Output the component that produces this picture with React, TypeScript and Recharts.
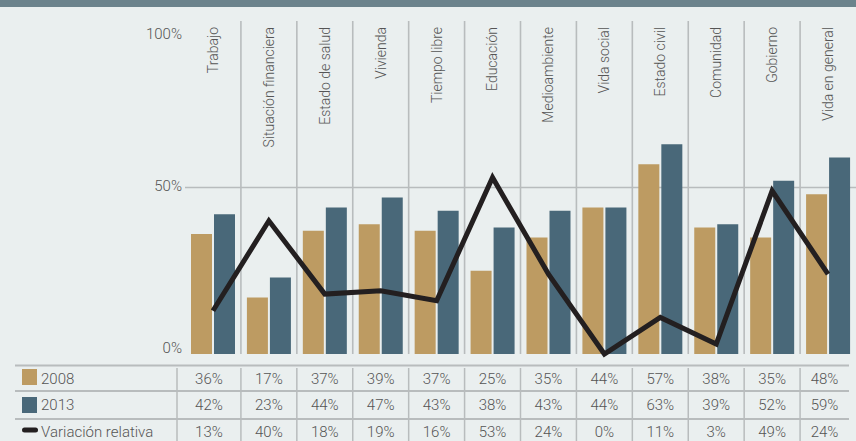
import React from 'react';
import { ComposedChart, Bar, Line, XAxis, YAxis, CartesianGrid } from 'recharts';

const categories = [
  'Trabajo',
  'Situación financiera',
  'Estado de salud',
  'Vivienda',
  'Tiempo libre',
  'Educación',
  'Medioambiente',
  'Vida social',
  'Estado civil',
  'Comunidad',
  'Gobierno',
  'Vida en general',
];
const values2008 = [36, 17, 37, 39, 37, 25, 35, 44, 57, 38, 35, 48];
const values2013 = [42, 23, 44, 47, 43, 38, 43, 44, 63, 39, 52, 59];
const variation = [13, 40, 18, 19, 16, 53, 24, 0, 11, 3, 49, 24];
const yTicks = [0, 50, 100];
const seriesNames = ['2008', '2013', 'Variación relativa'];

const data = categories.map((cat, i) => ({
  cat,
  y2008: values2008[i],
  y2013: values2013[i],
  vr: variation[i],
}));

// layout
const W = 856;
const H = 441;
const PLOT_LEFT = 185;
const TOP_AXIS_H = 21;
const BOTTOM_AXIS_H = 87;
const PLOT_W = W - PLOT_LEFT;
const BAND = PLOT_W / categories.length;
const TABLE_LEFT = 177;
const TABLE_RIGHT = 849;
const ROW_Y = [379, 405, 432];
const ROW_LINES = [365.5, 391, 419];

const TAN = '#bd9b62';
const BLUE = '#496879';
const BLACK = '#231f20';
const GRID = '#b8bcbd';
const TEXT = '#555555';
const BG = '#eaefef';
const BAND_COLOR = '#6c838c';
const FONT = 'Roboto, "DejaVu Sans", sans-serif';

const yLabelOffset: Record<number, number> = { 0: -6, 50: -2, 100: 13 };

const YTick = (props: any) => {
  const { y, payload } = props;
  const v = payload.value as number;
  return (
    <text
      x={PLOT_LEFT - 3}
      y={y + (yLabelOffset[v] ?? 0)}
      dy="0.35em"
      textAnchor="end"
      fontFamily={FONT}
      fontWeight={300}
      fontSize={15}
      fill={TEXT}
    >
      {v}%
    </text>
  );
};

const TopTick = (props: any) => {
  const { x, payload } = props;
  const yTop = 27;
  return (
    <text
      x={x}
      y={yTop}
      dy="0.35em"
      transform={`rotate(-90, ${x}, ${yTop})`}
      textAnchor="end"
      fontFamily={FONT}
      fontWeight={300}
      fontSize={14}
      fill={TEXT}
    >
      {payload.value}
    </text>
  );
};

const TableTick = (props: any) => {
  const { x, payload } = props;
  const idx: number = payload.index ?? props.index ?? categories.indexOf(payload.value);
  const left = idx === 0 ? TABLE_LEFT : x - BAND / 2;
  const right = idx === categories.length - 1 ? TABLE_RIGHT : x + BAND / 2;
  const cx = (left + right) / 2;
  const vals = [values2008[idx], values2013[idx], variation[idx]];
  return (
    <g>
      <line x1={left} x2={left} y1={368} y2={H} stroke={GRID} strokeWidth={1.5} />
      {vals.map((v, r) => (
        <text
          key={r}
          x={cx}
          y={ROW_Y[r]}
          dy="0.35em"
          textAnchor="middle"
          fontFamily={FONT}
          fontWeight={300}
          fontSize={15}
          fill={TEXT}
        >
          {v}%
        </text>
      ))}
    </g>
  );
};

export default function App() {
  return (
    <div style={{ position: 'absolute', left: 0, top: 0, width: W, height: H, background: BG, overflow: 'hidden' }}>
      <ComposedChart
        width={W}
        height={H}
        data={data}
        margin={{ top: 0, right: 0, left: 0, bottom: 0 }}
        barCategoryGap={6}
        barGap={2}
      >
        <CartesianGrid
          xAxisId="bottom"
          stroke={GRID}
          strokeWidth={1.6}
          horizontalCoordinatesGenerator={({ offset }: any) => [offset.top + offset.height * (1 - 50 / 100)]}
          verticalCoordinatesGenerator={({ offset }: any) =>
            categories.slice(1).map((_, i) => offset.left + ((i + 1) * offset.width) / categories.length)
          }
        />
        <XAxis
          xAxisId="top"
          orientation="top"
          dataKey="cat"
          height={TOP_AXIS_H}
          axisLine={false}
          tickLine={false}
          interval={0}
          tick={TopTick}
        />
        <XAxis
          xAxisId="bottom"
          orientation="bottom"
          dataKey="cat"
          height={BOTTOM_AXIS_H}
          axisLine={false}
          tickLine={false}
          interval={0}
          tick={TableTick}
        />
        <YAxis
          width={PLOT_LEFT}
          domain={[0, 100]}
          ticks={yTicks}
          axisLine={false}
          tickLine={false}
          interval={0}
          tick={YTick}
        />
        <Bar xAxisId="bottom" dataKey="y2008" name={seriesNames[0]} fill={TAN} isAnimationActive={false} />
        <Bar xAxisId="bottom" dataKey="y2013" name={seriesNames[1]} fill={BLUE} isAnimationActive={false} />
        <Line
          xAxisId="bottom"
          dataKey="vr"
          name={seriesNames[2]}
          type="linear"
          stroke={BLACK}
          strokeWidth={5}
          strokeLinejoin="miter"
          dot={false}
          activeDot={false}
          isAnimationActive={false}
        />
      </ComposedChart>
      <svg
        width={W}
        height={H}
        style={{ position: 'absolute', left: 0, top: 0, pointerEvents: 'none' }}
      >
        <rect x={0} y={0} width={W} height={7} fill={BAND_COLOR} />
        {ROW_LINES.map((y, i) => (
          <line key={i} x1={15} x2={TABLE_RIGHT} y1={y} y2={y} stroke={GRID} strokeWidth={2} />
        ))}
        <rect x={22} y={369} width={15} height={16} fill={TAN} />
        <rect x={22} y={397} width={15} height={16} fill={BLUE} />
        <rect x={22} y={427.5} width={16} height={5} rx={2.5} fill={BLACK} />
        {seriesNames.map((n, i) => (
          <text
            key={n}
            x={41}
            y={ROW_Y[i]}
            dy="0.35em"
            fontFamily={FONT}
            fontWeight={300}
            fontSize={15}
            fill={TEXT}
          >
            {n}
          </text>
        ))}
      </svg>
    </div>
  );
}
